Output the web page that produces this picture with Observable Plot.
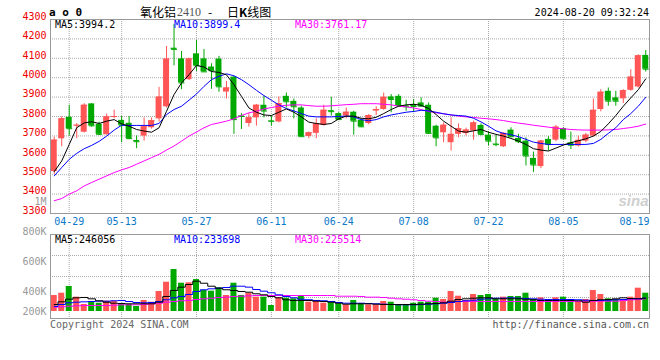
<!DOCTYPE html>
<html><head><meta charset="utf-8">
<script src="https://cdn.jsdelivr.net/npm/d3@7"></script>
<script src="https://cdn.jsdelivr.net/npm/@observablehq/plot@0.6"></script>
<style>
body{margin:0;background:#fff;}
#wrap{position:relative;width:660px;height:360px;overflow:hidden;background:#fff;font-family:"DejaVu Sans Mono",monospace;font-size:10px;}
#wrap svg{position:absolute;left:0;top:0;background:transparent;font-family:"DejaVu Sans Mono",monospace;font-size:10px;overflow:visible;}
.t{position:absolute;white-space:pre;line-height:1;transform:translateY(-50%);}
</style></head><body><div id="wrap"></div>
<script>
// ---------- data ----------
const dates = ["04-25","04-26","04-29","04-30","05-06","05-07","05-08","05-09","05-10","05-13",
"05-14","05-15","05-16","05-17","05-20","05-21","05-22","05-23","05-24","05-27",
"05-28","05-29","05-30","05-31","06-03","06-04","06-05","06-06","06-07","06-11",
"06-12","06-13","06-14","06-17","06-18","06-19","06-20","06-21","06-24","06-25",
"06-26","06-27","06-28","07-01","07-02","07-03","07-04","07-05","07-08","07-09",
"07-10","07-11","07-12","07-15","07-16","07-17","07-18","07-19","07-22","07-23",
"07-24","07-25","07-26","07-29","07-30","07-31","08-01","08-02","08-05","08-06",
"08-07","08-08","08-09","08-12","08-13","08-14","08-15","08-16","08-19","08-20"];
const open = [3516,3685,3796,3752,3719,3865,3760,3706,3797,3780,
3765,3676,3699,3742,3788,3850,4152,4097,3990,4123,
4097,4055,4096,3926,4003,3803,3764,3793,3858,3778,
3772,3904,3878,3844,3697,3713,3754,3830,3815,3802,
3822,3781,3764,3828,3836,3901,3904,3855,3862,3870,
3858,3750,3716,3665,3708,3712,3725,3754,3704,3658,
3644,3730,3687,3673,3584,3542,3682,3678,3738,3664,
3648,3673,3699,3836,3930,3896,3891,3935,3952,4115];
const high = [3694,3798,3858,3763,3866,3866,3771,3812,3833,3800,
3800,3700,3793,3793,3950,4161,4275,4135,4100,4192,
4145,4072,4110,3981,4007,3815,3815,3862,3905,3800,
3901,3921,3890,3853,3720,3788,3858,3899,3820,3844,
3827,3790,3810,3850,3921,3913,3913,3884,3887,3896,
3870,3755,3767,3793,3762,3740,3776,3762,3721,3704,
3716,3742,3708,3690,3617,3677,3696,3754,3742,3720,
3699,3713,3890,3938,3947,3930,3938,4041,4118,4140];
const low = [3502,3644,3699,3686,3715,3745,3702,3704,3789,3665,
3680,3634,3673,3735,3771,3844,4061,3938,3986,4032,
4028,3940,3925,3890,3708,3733,3745,3750,3793,3750,
3767,3844,3788,3696,3686,3686,3750,3802,3780,3788,
3704,3742,3757,3805,3832,3819,3853,3827,3820,3850,
3708,3644,3665,3622,3690,3700,3678,3700,3648,3644,
3640,3690,3661,3545,3511,3531,3622,3670,3680,3630,
3643,3665,3695,3824,3853,3853,3867,3930,3947,4029];
const close = [3678,3788,3737,3755,3858,3752,3708,3798,3800,3755,
3686,3670,3747,3778,3900,4096,4146,3973,4097,4062,
4030,4036,3953,3947,3784,3800,3793,3858,3828,3775,
3866,3876,3850,3696,3716,3762,3832,3825,3784,3822,
3776,3747,3805,3836,3899,3888,3856,3850,3852,3853,
3713,3690,3755,3708,3737,3730,3767,3708,3673,3655,
3713,3696,3670,3596,3550,3673,3656,3745,3685,3652,
3677,3704,3832,3925,3879,3879,3933,4003,4113,4044];
const ma5 = [3516,3571,3656,3742,3767,3773,3764,3776,3784,3762,
3750,3733,3725,3719,3742,3827,3913,3973,4015,4063,
4055,4032,4027,4015,3964,3904,3844,3822,3808,3805,
3822,3839,3822,3798,3771,3764,3759,3764,3788,3802,
3802,3791,3788,3796,3815,3836,3853,3860,3863,3858,
3841,3810,3776,3750,3725,3719,3726,3733,3719,3708,
3699,3687,3673,3656,3634,3627,3622,3637,3653,3665,
3675,3685,3699,3723,3762,3805,3853,3896,3938,3994];
const ma10 = [3494,3537,3579,3610,3634,3651,3672,3699,3730,3755,
3754,3754,3754,3754,3764,3810,3836,3853,3884,3916,
3955,3990,4007,4020,4010,3990,3964,3935,3908,3884,
3860,3841,3829,3815,3802,3798,3798,3798,3800,3802,
3798,3784,3778,3784,3798,3808,3815,3822,3826,3832,
3829,3822,3814,3808,3805,3802,3791,3772,3750,3726,
3713,3706,3696,3682,3668,3661,3656,3656,3656,3656,
3656,3656,3661,3682,3713,3742,3784,3815,3853,3899];
const ma30 = [3366,3377,3400,3417,3442,3460,3477,3494,3511,3525,
3537,3554,3571,3588,3605,3627,3648,3673,3699,3720,
3742,3759,3767,3776,3788,3805,3819,3827,3839,3846,
3853,3858,3860,3860,3856,3853,3853,3855,3858,3861,
3863,3866,3866,3866,3863,3860,3853,3850,3844,3836,
3826,3819,3814,3808,3802,3798,3795,3791,3788,3784,
3779,3772,3766,3761,3755,3750,3745,3740,3737,3733,
3731,3730,3730,3730,3731,3733,3738,3743,3750,3761];
// volume in thousands (K)
const volume = [251,287,393,225,110,146,130,162,162,110,
110,79,173,146,314,460,659,444,451,502,
330,319,372,251,444,251,287,225,225,94,
215,209,199,251,146,173,130,137,121,105,
173,121,105,105,157,146,105,105,130,146,
146,209,188,314,240,173,267,251,267,199,
225,236,236,287,188,215,173,215,225,188,
146,188,330,267,199,188,157,225,366,287];
const vma5 = [110,152,193,215,220,199,168,146,130,126,
121,121,121,121,146,236,330,382,424,476,
444,397,366,341,330,314,303,278,262,236,
215,184,173,173,173,162,157,146,130,115,
121,121,121,115,110,110,110,110,110,115,
121,126,137,162,188,199,209,215,215,199,
199,199,199,193,184,173,173,173,173,173,
168,146,173,184,188,199,215,204,199,209];
const vma10 = [79,110,137,146,152,157,162,162,168,173,
157,141,137,141,157,184,215,236,267,314,
341,356,366,377,397,397,382,345,319,294,
262,236,215,193,184,173,168,157,141,130,
130,130,126,121,115,110,105,105,105,110,
115,121,130,141,157,168,177,193,199,209,
209,215,209,204,199,193,188,188,188,188,
184,177,173,173,177,184,188,199,204,209];
const vma30 = [68,74,83,89,94,94,94,94,99,105,
105,105,110,121,130,146,157,168,173,188,
199,209,220,225,236,240,246,251,251,251,
251,251,251,251,251,251,251,251,240,240,
240,236,225,225,220,209,199,193,184,173,
162,157,146,152,157,157,157,157,157,157,
157,157,157,157,157,157,157,157,157,157,
157,162,162,162,162,162,173,184,188,199];
const tickDates = ["04-29","05-13","05-27","06-11","06-24","07-08","07-22","08-05"];
const lastTickDate = "08-19";
const priceTicks = [3300,3400,3500,3600,3700,3800,3900,4000,4100,4200,4300];
const volLabelTicks = [1000,800,600,400];   // K
const volLabelLast = [200];                 // K
const priceLegend = ["MA5:3994.2","MA10:3899.4","MA30:3761.17"];
const volLegend = ["MA5:246056","MA10:233698","MA30:225514"];
const titleMain = "氧化铝", titleCode = "2410", titleDash = "-", titleTail = "日<b>K</b>线图";
const stamp = "2024-08-20 09:32:24";
const marker = "a o 0";
const copyright = "Copyright 2024 SINA.COM";
const site = "http://finance.sina.com.cn";

// ---------- styles ----------
const RED = "#ff5555", GREEN = "#00a800";
const MA_COLORS = ["#000000", "#0000ff", "#ff00ff"];
const GRID = {stroke: "#aaa", strokeOpacity: 1, strokeDasharray: "1,1"};
const W = 660, H = 360;

const rows = dates.map((d, i) => ({
  i, date: d, open: open[i], high: high[i], low: low[i], close: close[i],
  volume: volume[i], ma5: ma5[i], ma10: ma10[i], ma30: ma30[i],
  vma5: vma5[i], vma10: vma10[i], vma30: vma30[i],
  color: close[i] >= open[i] ? RED : GREEN
}));
const tickIdx = tickDates.map(d => dates.indexOf(d));
const xDomain = [-0.5, dates.length - 0.5];
const wrap = document.getElementById("wrap");

// ---------- price panel ----------
const price = Plot.plot({
  width: W, height: H, marginLeft: 50, marginRight: 11, marginTop: 19, marginBottom: H - 213,
  x: {domain: xDomain, axis: null},
  y: {domain: [priceTicks[0], priceTicks[priceTicks.length - 1]], axis: null},
  marks: [
    Plot.gridY(priceTicks.slice(1, -1), GRID),
    Plot.gridX(tickIdx, GRID),
    Plot.text(["sina"], {frameAnchor: "bottom-right", dx: -1, dy: -12, textAnchor: "end", lineAnchor: "middle",
      fill: "#cfcfcf", fontSize: 15, fontWeight: "bold", fontStyle: "italic", fontFamily: "Liberation Sans, sans-serif"}),
    Plot.ruleX(rows, {x: "i", y1: "low", y2: "high", stroke: "color"}),
    Plot.rect(rows, {x1: d => d.i - 0.4, x2: d => d.i + 0.4,
      y1: d => Math.min(d.open, d.close), y2: d => Math.max(d.open, d.close), fill: "color"}),
    Plot.link(rows, {x1: d => d.i - 0.4, x2: d => d.i + 0.4, y1: "close", y2: "close", stroke: "color"}),
    Plot.line(rows, {x: "i", y: "ma30", stroke: MA_COLORS[2], strokeWidth: 1}),
    Plot.line(rows, {x: "i", y: "ma10", stroke: MA_COLORS[1], strokeWidth: 1}),
    Plot.line(rows, {x: "i", y: "ma5", stroke: MA_COLORS[0], strokeWidth: 1}),
    Plot.frame({stroke: "#999"}),
    Plot.axisY(priceTicks, {tickSize: 0, tickPadding: 4, fill: "#ee0000", dy: -3, fontSize: 10, tickFormat: d => String(d)}),
    Plot.text(tickDates, {x: d => dates.indexOf(d), y: priceTicks[0], dy: 8, lineAnchor: "middle", fill: "#0a78c8", fontSize: 10}),
    Plot.text([lastTickDate], {frameAnchor: "bottom-right", dy: 8, textAnchor: "end", lineAnchor: "middle", fill: "#0a78c8", fontSize: 10})
  ]
});
wrap.appendChild(price);

// ---------- volume panel ----------
const vLo = -110, vHi = 1209;
const vGrid = [1, 2, 3].map(k => vLo + (vHi - vLo) * k / 4);
const vol = Plot.plot({
  width: W, height: H, marginLeft: 50, marginRight: 11, marginTop: 234, marginBottom: H - 318,
  x: {domain: xDomain, axis: null},
  y: {domain: [vLo, vHi], axis: null},
  marks: [
    Plot.gridY(vGrid, GRID),
    Plot.gridX(tickIdx, GRID),
    Plot.rect(rows, {x1: d => d.i - 0.4, x2: d => d.i + 0.4, y1: 0, y2: "volume", fill: "color"}),
    Plot.line(rows, {x: "i", y: "vma30", stroke: MA_COLORS[2], strokeWidth: 1, curve: "step"}),
    Plot.line(rows, {x: "i", y: "vma10", stroke: MA_COLORS[1], strokeWidth: 1, curve: "step"}),
    Plot.line(rows, {x: "i", y: "vma5", stroke: MA_COLORS[0], strokeWidth: 1, curve: "step"}),
    Plot.frame({stroke: "#999"})
  ]
});
wrap.appendChild(vol);

// ---------- volume axis labels (as placed in the original) ----------
const vlab = Plot.plot({
  width: W, height: H, marginLeft: 50, marginRight: 11, marginTop: 201.5, marginBottom: H - 351.5,
  y: {domain: [0, 1000], axis: null},
  marks: [
    Plot.axisY(volLabelTicks, {tickSize: 0, tickPadding: 4, fill: "#999", fontSize: 10,
      tickFormat: d => d >= 1000 ? (d / 1000) + "M" : d + "K"}),
    Plot.text(volLabelLast, {y: d => d, text: d => d + "K", frameAnchor: "left", textAnchor: "end",
      lineAnchor: "middle", dx: -4, dy: -10.5, fill: "#999", fontSize: 10})
  ]
});
wrap.appendChild(vlab);

// ---------- html texts ----------
function addText(html, x, y, opts = {}) {
  const el = document.createElement("div");
  el.className = "t";
  el.innerHTML = html;
  if (opts.anchor === "end") el.style.right = (W - x) + "px"; else el.style.left = x + "px";
  el.style.top = y + "px";
  el.style.color = opts.color || "#000";
  if (opts.font) el.style.font = opts.font;
  wrap.appendChild(el);
}
const mono = '10px "DejaVu Sans Mono", monospace';
addText(marker, 49, 12, {font: 'bold 11px "DejaVu Sans Mono", monospace'});
addText(titleMain, 140, 11, {font: '12px "Noto Sans CJK SC"'});
addText(titleCode, 177, 11.5, {font: '12px "Liberation Serif", serif', color: "#555"});
addText(titleDash, 208, 11, {font: '12px "Noto Sans CJK SC"'});
addText(titleTail, 227, 11, {font: '12px "Noto Sans CJK SC"'});
addText(stamp, 649, 12, {anchor: "end", font: mono});
const legendX = [55, 174, 295];
priceLegend.forEach((s, k) => addText(s, legendX[k], 24, {font: mono, color: MA_COLORS[k]}));
volLegend.forEach((s, k) => addText(s, legendX[k], 238.5, {font: mono, color: MA_COLORS[k]}));
addText(copyright, 50, 323.5, {font: mono, color: "#666"});
addText(site, 649, 323.5, {anchor: "end", font: mono, color: "#555"});
</script></body></html>
